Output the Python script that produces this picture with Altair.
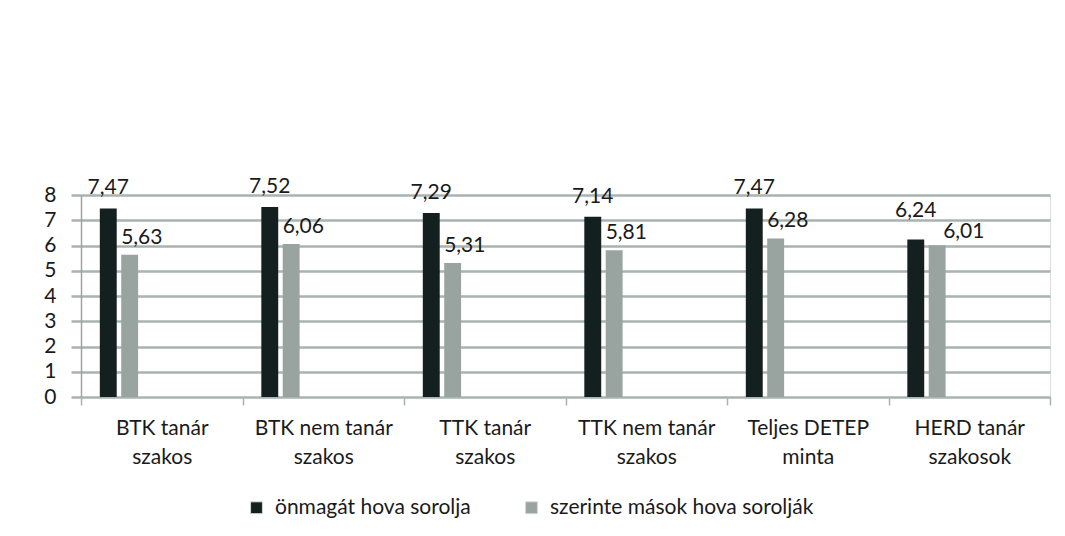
import altair as alt
import pandas as pd

categories = ["BTK tanár\nszakos", "BTK nem tanár\nszakos", "TTK tanár\nszakos",
              "TTK nem tanár\nszakos", "Teljes DETEP\nminta", "HERD tanár\nszakosok"]
series = ["önmagát hova sorolja", "szerinte mások hova sorolják"]
self_vals = [7.47, 7.52, 7.29, 7.14, 7.47, 6.24]
others_vals = [5.63, 6.06, 5.31, 5.81, 6.28, 6.01]
y_ticks = [0, 1, 2, 3, 4, 5, 6, 7, 8]

rows = []
for c, a, b in zip(categories, self_vals, others_vals):
    rows.append({"cat": c, "series": series[0], "value": a})
    rows.append({"cat": c, "series": series[1], "value": b})
df = pd.DataFrame(rows)
df["label"] = df["value"].map(lambda v: f"{v:.2f}".replace(".", ","))

FONT = "Lato"
FS = 21
TXT = "#1a1a1a"
GRID = "#a9b3b1"
DARK = "#13201f"
GREY = "#99a4a1"

offset_domain = series + ["_3", "_4", "_5", "_6"]
last_cat = categories[-1]

x_enc = alt.X("cat:N", sort=categories, title=None,
              scale=alt.Scale(paddingInner=0, paddingOuter=0),
              axis=alt.Axis(labelAngle=0, tickBand="extent", tickSize=8, tickColor=GRID,
                            tickWidth=1.5, domain=False, labelFont=FONT, labelFontSize=FS,
                            labelColor=TXT, labelPadding=12, labelLineHeight=29,
                            labelExpr="split(datum.label, '\\n')", grid=False))
xo_enc = alt.XOffset("series:N", scale=alt.Scale(domain=offset_domain, paddingInner=0.21,
                                                  paddingOuter=0.88))
y_enc = alt.Y("value:Q", title=None,
              scale=alt.Scale(domain=[0, 8], nice=False),
              axis=alt.Axis(values=y_ticks, tickSize=10, tickColor=GRID, tickWidth=2.5,
                            grid=True, gridColor=GRID, gridWidth=2.5, labelOverlap=False,
                            domain=True, domainColor="#9aa4a2", domainWidth=1.5,
                            labelFont=FONT, labelFontSize=FS, labelColor=TXT,
                            labelPadding=15))

bars = alt.Chart(df).mark_bar().encode(
    x=x_enc,
    xOffset=xo_enc,
    y=y_enc,
    color=alt.Color("series:N", scale=alt.Scale(domain=series, range=[DARK, GREY]),
                    legend=alt.Legend(title=None, orient="none", legendX=165, legendY=302,
                                      direction="horizontal", symbolType="square",
                                      symbolSize=140, labelFont=FONT, labelFontSize=FS,
                                      labelColor=TXT, columnPadding=50, labelOffset=8,
                                      labelLimit=0,
                                      symbolStrokeColor="#d0d6d5", symbolStrokeWidth=1)),
)


def labels(series_name, in_last, align, dx, dy):
    cond = (alt.datum.cat == last_cat) if in_last else (alt.datum.cat != last_cat)
    return alt.Chart(df).transform_filter(
        alt.datum.series == series_name
    ).transform_filter(cond).mark_text(
        align=align, baseline="alphabetic", dx=dx, dy=dy, font=FONT, fontSize=FS, color=TXT
    ).encode(x=x_enc, xOffset=xo_enc, y=y_enc, text="label:N")


lab_dark = labels(series[0], False, "center", 0, -14)
lab_grey = labels(series[1], False, "left", -8.5, -11)
lab_dark_last = labels(series[0], True, "center", 0, -22)
lab_grey_last = labels(series[1], True, "left", 6, -7)

chart = alt.layer(bars, lab_dark, lab_grey, lab_dark_last, lab_grey_last).properties(
    width=969, height=202,
    autosize=alt.AutoSizeParams(type="none"),
    padding={"left": 73, "top": 187, "right": 7, "bottom": 127},
).configure_view(stroke=None).configure(background="white")

chart.save("out.html", embed_options={"renderer": "svg", "actions": False})
